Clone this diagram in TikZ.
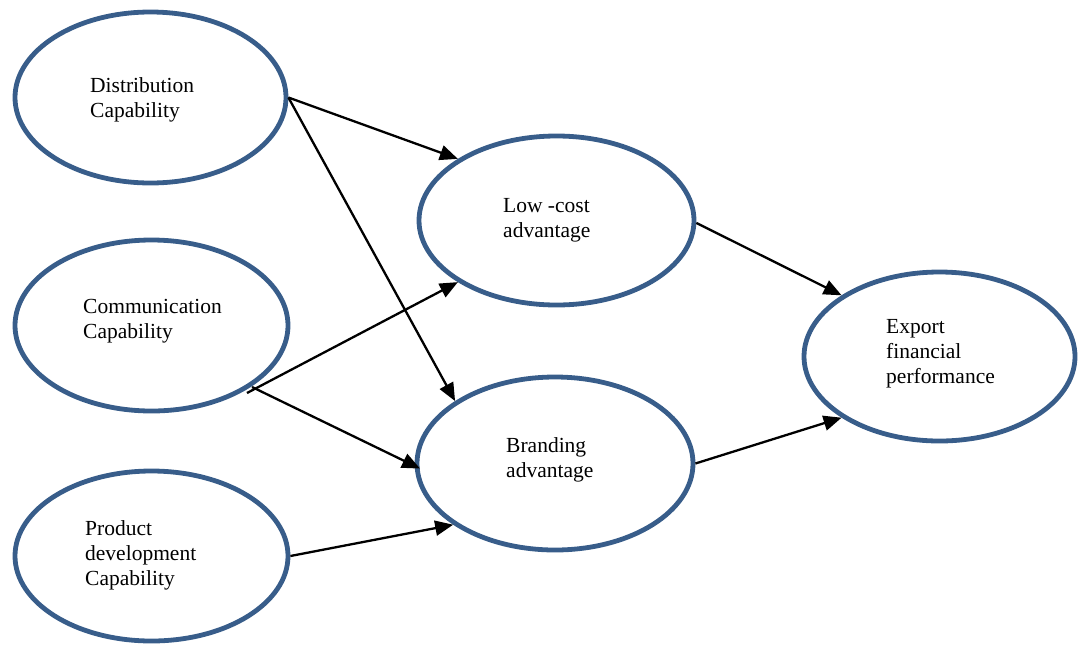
\documentclass[tikz,border=0pt]{standalone}
\usepackage{fontspec}
\setmainfont{Liberation Serif}
\usetikzlibrary{shapes.geometric,arrows.meta}
\definecolor{ovalblue}{HTML}{385D8A}
\tikzset{
  construct/.style={ellipse, draw=ovalblue, line width=4.8pt, inner sep=0pt, outer sep=2.4pt},
  caption/.style={anchor=base west, align=left, inner sep=0pt, font=\fontsize{21.5}{25}\selectfont},
  path link/.style={line width=2.3pt, -{Triangle[length=18pt,width=15pt]}},
}
\begin{document}
\begin{tikzpicture}[x=1pt,y=-1pt]
\useasboundingbox (0,0) rectangle (1078,646);
% constructs
\node[construct, minimum width=271pt, minimum height=171pt] (dist) at (150.5,97.5) {};
\node[construct, minimum width=273pt, minimum height=171pt] (comm) at (151.5,325.5) {};
\node[construct, minimum width=273pt, minimum height=170pt] (prod) at (151.5,556) {};
\node[construct, minimum width=275pt, minimum height=169pt] (low) at (556.5,220.5) {};
\node[construct, minimum width=276pt, minimum height=173pt] (brand) at (555,463.5) {};
\node[construct, minimum width=271pt, minimum height=169pt] (exp) at (939.5,356.5) {};
% captions (placed by the baseline of their last line)
\node[caption] (distT) at (90,117) {Distribution\\Capability};
\node[caption] (commT) at (83,338) {Communication\\Capability};
\node[caption] (prodT) at (85,585) {Product\\development\\Capability};
\node[caption] (lowT) at (503,237) {Low -cost\\advantage};
\node[caption] (brandT) at (506,477) {Branding\\advantage};
\node[caption] (expT) at (886,383) {Export\\financial\\performance};
% start points of the two paths leaving the communication construct
\coordinate (commA) at (247,393);
\coordinate (commB) at (252,387);
% paths
\draw[path link] (dist.east) -- (low.148);
\draw[path link] (dist.east) -- (brand.148);
\draw[path link] (commA) -- (low.212);
\draw[path link, shorten >=-6pt] (commB) -- (brand.181);
\draw[path link] (prod.east) -- (brand.211);
\draw[path link] (low.-1) -- (exp.148);
\draw[path link] (brand.east) -- (exp.212);
\end{tikzpicture}
\end{document}
